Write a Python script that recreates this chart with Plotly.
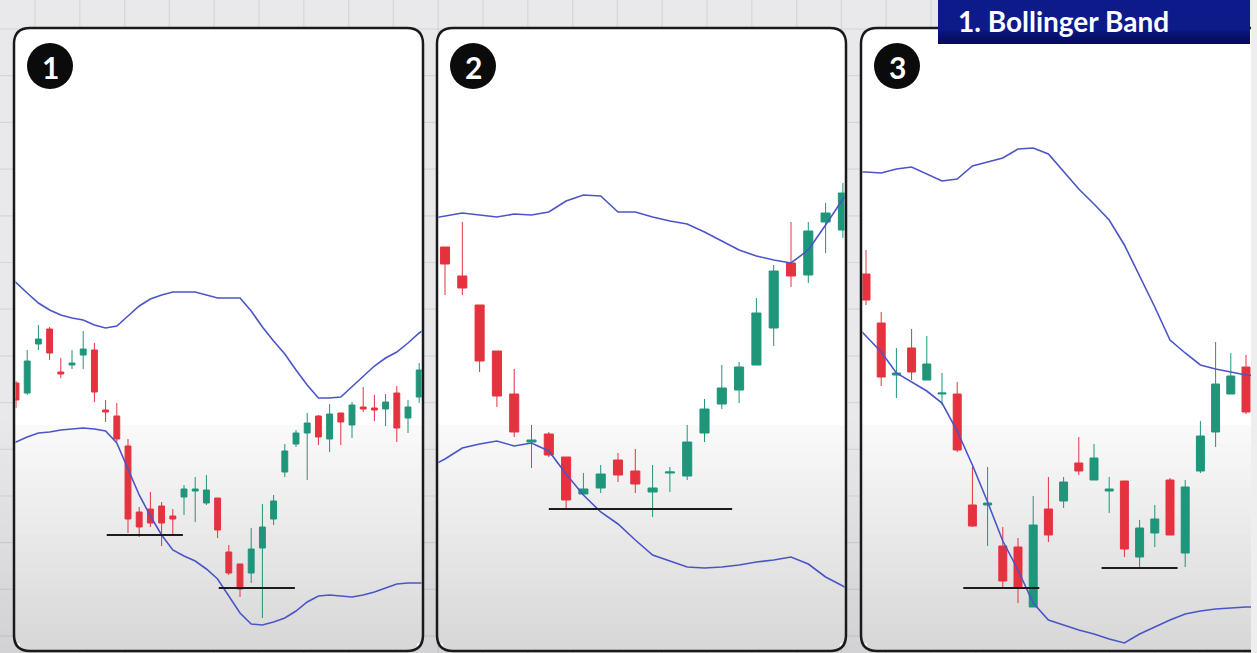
import plotly.graph_objects as go

W, H = 1257, 653

# ---------------- data (price units, arbitrary scale) ----------------
p1_open = [270, 260, 309, 324, 281, 288, 298, 303, 243, 237, 207, 141, 144, 147, 137, 156, 162, 150, 155, 101,
           89, 80, 105, 134, 181, 209, 220, 237, 214, 240, 228, 246, 245, 244, 260, 235, 256]
p1_close = [253, 292, 314, 300, 279, 290, 304, 261, 241, 214, 134, 126, 130, 130, 134, 164, 164, 163, 123, 80,
            64, 104, 126, 152, 202, 220, 230, 216, 239, 231, 248, 244, 243, 251, 225, 246, 283]
p1_high = [272, 303, 328, 326, 295, 303, 322, 310, 253, 250, 214, 146, 161, 151, 144, 168, 176, 178, 155, 108,
           89, 125, 149, 158, 209, 223, 240, 238, 249, 240, 251, 266, 258, 259, 267, 253, 290]
p1_low = [245, 258, 303, 293, 275, 284, 284, 251, 231, 211, 120, 116, 126, 107, 118, 138, 131, 148, 115, 78,
          56, 70, 35, 128, 176, 206, 173, 208, 201, 208, 215, 241, 232, 227, 211, 220, 250]
p1_upper = [381, 370, 360, 350, 343, 338, 335, 333, 328, 325, 327, 337, 347, 354, 358, 361, 361, 361, 358, 355,
            355, 355, 342, 326, 312, 299, 283, 268, 255, 255, 256, 266, 276, 287, 295, 301, 310, 320, 328]
p1_lower = [207, 211, 216, 220, 221, 223, 224, 225, 224, 222, 210, 184, 158, 137, 118, 103, 97, 92, 84, 74,
            57, 40, 29, 28, 31, 35, 42, 51, 57, 58, 57, 56, 58, 61, 65, 69, 70, 70, 70]
p1_support = [(8.1, 14.9, 118), (18.1, 24.9, 65)]

p2_open = [406, 377, 348, 302, 259, 211, 219, 196, 159, 165, 193, 182, 161, 180, 177, 220, 249, 263, 288, 325,
           390, 378, 431, 423]
p2_close = [389, 365, 292, 257, 221, 213, 198, 153, 164, 179, 178, 169, 165, 181, 211, 244, 265, 286, 340, 382,
            377, 422, 440, 460]
p2_high = [406, 431, 348, 302, 284, 228, 221, 196, 180, 188, 200, 204, 188, 186, 228, 254, 288, 291, 355, 388,
           431, 431, 450, 470]
p2_low = [358, 358, 281, 246, 216, 185, 196, 145, 158, 160, 171, 160, 136, 161, 173, 211, 244, 250, 288, 307,
          366, 370, 400, 415]
p2_upper = [434, 437, 440, 438, 436, 439, 438, 441, 452, 458, 457, 441, 441, 436, 432, 429, 421, 412, 403, 397,
            393, 390, 403, 428, 454, 473]
p2_lower = [185, 194, 205, 209, 212, 207, 210, 202, 179, 158, 141, 129, 113, 98, 92, 86, 85, 86, 88, 91,
            93, 96, 89, 76, 67, 56]
p2_support = [(6.0, 16.6, 144)]

p3_open = [379, 330, 278, 305, 273, 259, 259, 148, 148, 107, 106, 46, 144, 152, 190, 173, 162, 172, 96, 120,
           173, 100, 182, 221, 259, 286]
p3_close = [353, 276, 280, 281, 289, 260, 203, 127, 150, 72, 65, 128, 118, 171, 182, 195, 164, 104, 125, 134,
            118, 166, 217, 269, 277, 241]
p3_high = [403, 341, 305, 324, 317, 280, 271, 186, 186, 126, 115, 157, 176, 176, 216, 209, 176, 172, 133, 148,
           175, 173, 232, 311, 300, 298]
p3_low = [348, 267, 255, 273, 273, 248, 201, 126, 107, 66, 50, 46, 111, 145, 178, 173, 140, 96, 85, 106,
          118, 86, 180, 206, 259, 239]
p3_upper = [481, 481, 480, 484, 486, 479, 472, 474, 487, 491, 495, 504, 505, 499, 482, 464, 449, 433, 408, 377,
            346, 313, 300, 288, 284, 281, 278, 277]
p3_lower = [333, 317, 301, 280, 271, 262, 250, 222, 188, 151, 112, 83, 50, 33, 28, 23, 19, 14, 10, 19,
            26, 33, 39, 42, 44, 45, 46, 46]
p3_support = [(6.4, 11.4, 65), (15.5, 20.5, 85)]

panel_labels = ["1", "2", "3"]
title_text = "1. Bollinger Band"

# ---------------- styles / layout geometry ----------------
RED = "#e5323f"
GREEN = "#1f957a"
BLUE = "#4a55c6"
BORDER = "#1a1a1a"

# panel frame in pixels: left, right, first candle px, candle step px
panels = [
    dict(L=14, R=423, x0=16.0, step=11.2),
    dict(L=437, R=846, x0=445.0, step=17.3),
    dict(L=861, R=1290, x0=866.0, step=15.2, clipR=1251),
]
TOP, BOT = 28, 651

series = [
    (p1_open, p1_high, p1_low, p1_close, p1_upper, p1_lower, p1_support),
    (p2_open, p2_high, p2_low, p2_close, p2_upper, p2_lower, p2_support),
    (p3_open, p3_high, p3_low, p3_close, p3_upper, p3_lower, p3_support),
]


def px(x):
    return x / W


def py(y):
    return 1 - y / H


fig = go.Figure()
layout_axes = {}

for k, (pan, (o, h, l, c, up, lo, sup)) in enumerate(zip(panels, series)):
    n = k + 1
    xa = "x" if n == 1 else f"x{n}"
    ya = "y" if n == 1 else f"y{n}"
    idx = list(range(len(o)))
    bidx = list(range(-1, len(up) - 1))
    fig.add_trace(go.Candlestick(
        x=idx, open=o, high=h, low=l, close=c, xaxis=xa, yaxis=ya,
        increasing=dict(line=dict(color=GREEN, width=1), fillcolor=GREEN),
        decreasing=dict(line=dict(color=RED, width=1), fillcolor=RED),
        whiskerwidth=0, showlegend=False, hoverinfo="skip"))
    fig.add_trace(go.Scatter(x=bidx, y=up, mode="lines", line=dict(color=BLUE, width=1.6),
                             xaxis=xa, yaxis=ya, showlegend=False, hoverinfo="skip"))
    fig.add_trace(go.Scatter(x=bidx, y=lo, mode="lines", line=dict(color=BLUE, width=1.6),
                             xaxis=xa, yaxis=ya, showlegend=False, hoverinfo="skip"))
    for (a, b, lev) in sup:
        fig.add_trace(go.Scatter(x=[a, b], y=[lev, lev], mode="lines", line=dict(color="#1c1c1c", width=2),
                                 xaxis=xa, yaxis=ya, showlegend=False, hoverinfo="skip"))
    inner_l = pan["L"] + 1.5
    inner_r = pan.get("clipR", pan["R"] - 1.5)
    r0 = (inner_l - pan["x0"]) / pan["step"]
    r1 = (inner_r - pan["x0"]) / pan["step"]
    xkey = "xaxis" if n == 1 else f"xaxis{n}"
    ykey = "yaxis" if n == 1 else f"yaxis{n}"
    layout_axes[xkey] = dict(domain=[px(inner_l), px(inner_r)], range=[r0, r1], visible=False,
                             rangeslider=dict(visible=False), anchor=ya, fixedrange=True)
    layout_axes[ykey] = dict(domain=[0, 1], range=[0, H], visible=False, anchor=xa, fixedrange=True)

shapes = []


def rect(x0, y0, x1, y1, color, layer="below"):
    return dict(type="rect", xref="paper", yref="paper", x0=px(x0), x1=px(x1), y0=py(y1), y1=py(y0),
                fillcolor=color, line=dict(width=0), layer=layer)


def lerp_col(c0, c1, t):
    return "rgb(%d,%d,%d)" % tuple(round(c0[i] + (c1[i] - c0[i]) * t) for i in range(3))


# background gradient (outside panels)
shapes.append(rect(0, 0, W, H, "#e9e9ec"))
nb = 20
for i in range(nb):
    y0 = 420 + (H - 420) * i / nb
    y1 = 420 + (H - 420) * (i + 1) / nb + 0.5
    shapes.append(rect(0, y0, W, y1, lerp_col((233, 233, 236), (210, 210, 213), (i + 0.5) / nb)))

# background grid
gx = 35.0
while gx < W:
    shapes.append(dict(type="line", xref="paper", yref="paper", x0=px(gx), x1=px(gx), y0=0, y1=1,
                       line=dict(color="rgba(0,0,0,0.08)", width=1.2), layer="below"))
    gx += 44.8
gy = 29.0
while gy < H:
    shapes.append(dict(type="line", xref="paper", yref="paper", x0=0, x1=1, y0=py(gy), y1=py(gy),
                       line=dict(color="rgba(0,0,0,0.08)", width=1.2), layer="below"))
    gy += 46.7


def rounded_path(L, R, T, B, r):
    rx, ry = r / W, r / H
    l, rr, t, b = px(L), px(R), py(T), py(B)
    return (f"M {l + rx},{t} L {rr - rx},{t} Q {rr},{t} {rr},{t - ry} L {rr},{b + ry} "
            f"Q {rr},{b} {rr - rx},{b} L {l + rx},{b} Q {l},{b} {l},{b + ry} L {l},{t - ry} "
            f"Q {l},{t} {l + rx},{t} Z")


# panel fills
for pan in panels:
    shapes.append(dict(type="path", xref="paper", yref="paper", path=rounded_path(pan["L"], pan["R"], TOP, BOT, 16),
                       fillcolor="white", line=dict(width=0), layer="below"))
    ng = 24
    for i in range(ng):
        y0 = 425 + (BOT - 8 - 425) * i / ng
        y1 = 425 + (BOT - 8 - 425) * (i + 1) / ng + 0.5
        shapes.append(rect(pan["L"] + 1, y0, pan["R"] - 1, y1,
                           lerp_col((250, 250, 250), (216, 216, 216), (i + 0.5) / ng)))
    shapes.append(rect(pan["L"] + 6, BOT - 8.5, pan["R"] - 6, BOT, "rgb(216,216,216)"))

# panel borders
for pan in panels:
    shapes.append(dict(type="path", xref="paper", yref="paper", path=rounded_path(pan["L"], pan["R"], TOP, BOT, 16),
                       fillcolor="rgba(0,0,0,0)", line=dict(color=BORDER, width=2.5), layer="above"))

# number badges
badge_r = 23
for pan in panels:
    cx, cy = pan["L"] + 36, 66
    shapes.append(dict(type="circle", xref="paper", yref="paper", x0=px(cx - badge_r), x1=px(cx + badge_r),
                       y0=py(cy + badge_r), y1=py(cy - badge_r), fillcolor="#0b0b0b", line=dict(width=0),
                       layer="above"))

# title box
shapes.append(rect(938, 0, 1250, 44, "#0c1a8a", layer="above"))
for i in range(8):
    shapes.append(rect(938, 30 + i * 1.75, 1250, 44, "rgba(5,10,70,0.12)", layer="above"))
# right edge strip
shapes.append(rect(1251, 0, W, H, "#eeeeee", layer="above"))

annotations = []
for pan, lab in zip(panels, panel_labels):
    annotations.append(dict(xref="paper", yref="paper", x=px(pan["L"] + 36), y=py(67), text=lab, showarrow=False,
                            xanchor="center", yanchor="middle",
                            font=dict(family="Lato, Open Sans, sans-serif", size=30, color="white", weight="bold")))
annotations.append(dict(xref="paper", yref="paper", x=px(956), y=py(21), text=title_text, showarrow=False,
                        xanchor="left", yanchor="middle",
                        font=dict(family="Lato, Open Sans, sans-serif", size=28, color="white", weight="bold")))

fig.update_layout(
    width=W, height=H, margin=dict(l=0, r=0, t=0, b=0), autosize=False,
    paper_bgcolor="#e9e9ec", plot_bgcolor="rgba(0,0,0,0)",
    shapes=shapes, annotations=annotations, showlegend=False, hovermode=False,
    boxgap=0.25,
    **layout_axes)

fig.write_html("out.html", config=dict(displayModeBar=False),
               post_script="document.body.style.margin='0px';document.body.style.overflow='hidden';")
